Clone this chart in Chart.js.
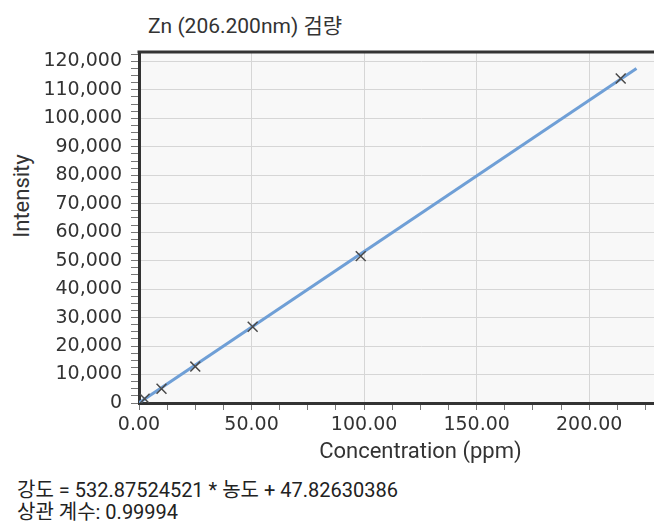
<!DOCTYPE html>
<html lang="ko">
<head>
  <meta charset="UTF-8" />
  <title>Zn calibration</title>
  <script src="https://cdn.jsdelivr.net/npm/chart.js"></script>
  <style>
    html, body { margin: 0; padding: 0; background: #fff; overflow: hidden; }
    body { width: 654px; height: 521px; position: relative; font-family: Roboto, "Noto Sans CJK KR", sans-serif; color: #333; }
    #chart { position: absolute; left: 0; top: 0; }
    .title { position: absolute; left: 148px; top: 9px; font-size: 21px; white-space: nowrap; }
    .ylab { position: absolute; left: 21px; top: 196px; font-size: 22px; transform: translate(-50%, -50%) rotate(-90deg); white-space: nowrap; }
    .eq { position: absolute; left: 17px; font-size: 20px; color: #222; white-space: nowrap; line-height: 22px; }
  </style>
</head>
<body>
  <div class="title">Zn (206.200nm) 검량</div>
  <div class="ylab">Intensity</div>
  <canvas id="chart" width="739" height="470"></canvas>
  <div class="eq" style="top:479px">강도 = 532.87524521 * 농도 + 47.82630386</div>
  <div class="eq" style="top:501px">상관 계수: 0.99994</div>

  <script>
    // standards
    const concentration = [2.5, 10, 25, 50.5, 98.5, 214];
    const intensity = [1500, 5000, 12800, 26800, 51600, 114000];
    // fitted line ends
    const fitX = [0, 221];
    const fitY = [50, 117500];

    // labelled ticks; minor ticks sit between them
    const xTicks = [0, 50, 100, 150, 200, 250];
    const yTicks = [0, 10000, 20000, 30000, 40000, 50000, 60000, 70000, 80000, 90000, 100000, 110000, 120000];
    const xMinorStep = 12.5;
    const yMinorStep = 2500;

    const xMax = 250;
    const yMax = 123300;

    const pts = concentration.map((c, i) => ({ x: c, y: intensity[i] }));
    const fit = fitX.map((c, i) => ({ x: c, y: fitY[i] }));

    function withMinors(major, step, max) {
      const out = [];
      major.forEach((v, i) => {
        out.push({ value: v, major: true });
        for (let m = v + step; m < (i + 1 < major.length ? major[i + 1] : max + 1e-9) && m <= max; m += step) {
          out.push({ value: m, major: false });
        }
      });
      return out;
    }

    const frame = {
      id: 'frame',
      beforeDraw(chart) {
        const { ctx, chartArea: a } = chart;
        ctx.save();
        ctx.fillStyle = '#f8f8f8';
        ctx.fillRect(a.left, a.top, a.right - a.left, a.bottom - a.top);
        ctx.restore();
      },
      afterDraw(chart) {
        const { ctx, chartArea: a } = chart;
        ctx.save();
        ctx.strokeStyle = '#333';
        ctx.lineWidth = 3;
        ctx.beginPath();
        ctx.moveTo(a.left - 1.5, a.top);
        ctx.lineTo(a.right, a.top);
        ctx.stroke();
        ctx.restore();
      }
    };

    const tickFont = { family: 'DejaVu Sans', size: 19 };
    const isMajor = c => c.tick && c.tick.major;

    new Chart(document.getElementById('chart').getContext('2d'), {
      type: 'scatter',
      data: {
        datasets: [
          {
            label: 'Standards',
            data: pts,
            pointStyle: 'crossRot',
            pointRadius: 7,
            borderColor: '#4a4a4a',
            borderWidth: 1.5,
            showLine: false
          },
          {
            label: 'Fit',
            data: fit,
            showLine: true,
            pointRadius: 0,
            borderColor: '#6f9fd6',
            borderWidth: 3
          }
        ]
      },
      options: {
        responsive: false,
        animation: false,
        layout: { padding: { top: 52, right: 9, left: 0, bottom: 0 } },
        plugins: { legend: { display: false }, tooltip: { enabled: false } },
        scales: {
          x: {
            type: 'linear',
            min: 0,
            max: xMax,
            afterFit(s) { s.height = 67; },
            afterBuildTicks(s) { s.ticks = withMinors(xTicks, xMinorStep, xMax); },
            ticks: {
              autoSkip: false,
              maxRotation: 0,
              padding: 4,
              color: '#333',
              font: tickFont,
              callback: (v, i, ticks) => (ticks[i].major ? v.toFixed(2) : '')
            },
            grid: {
              color: c => (isMajor(c) && c.tick.value > 0 ? '#d6d6d6' : 'transparent'),
              tickColor: '#777',
              tickLength: 7,
              lineWidth: 1
            },
            border: { color: '#333', width: 3 },
            title: {
              display: true,
              text: 'Concentration (ppm)',
              color: '#333',
              font: { family: 'Roboto', size: 22 },
              padding: { top: 0, bottom: 4 }
            }
          },
          y: {
            min: 0,
            max: yMax,
            afterFit(s) { s.width = 139; },
            afterBuildTicks(s) { s.ticks = withMinors(yTicks, yMinorStep, yMax); },
            ticks: {
              autoSkip: false,
              padding: 9,
              color: '#333',
              font: tickFont,
              callback: (v, i, ticks) => (ticks[i].major ? v.toLocaleString('en-US') : '')
            },
            grid: {
              color: c => (isMajor(c) && c.tick.value > 0 ? '#d6d6d6' : 'transparent'),
              tickColor: '#777',
              tickLength: 8,
              lineWidth: 1
            },
            border: { color: '#333', width: 3 }
          }
        }
      },
      plugins: [frame]
    });
  </script>
</body>
</html>
